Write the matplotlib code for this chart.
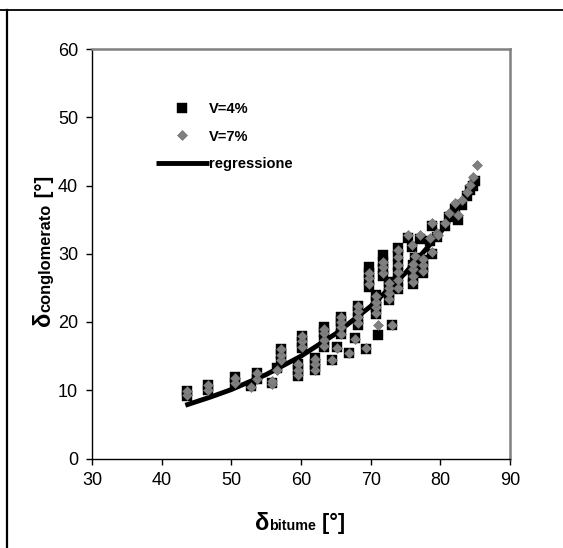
import matplotlib
matplotlib.use("Agg")
import matplotlib.pyplot as plt
from matplotlib.lines import Line2D

plt.rcParams['font.family'] = ['Liberation Sans', 'DejaVu Sans']

# ---- data ----
x_v4 = [43.6, 43.6, 46.6, 46.6, 50.5, 50.5, 52.8, 53.7, 53.7, 55.9, 56.5,
        57.1, 57.1, 57.1, 59.5, 59.5, 59.5, 60.1, 60.1, 60.1, 62.0, 62.0, 62.0,
        63.3, 63.3, 63.3, 63.3, 64.4, 65.1, 65.7, 65.7, 65.7, 65.7, 66.9, 67.7,
        68.2, 68.2, 68.2, 68.2, 69.3, 69.8, 69.8, 69.8, 69.8, 70.7, 70.7, 70.7, 70.7,
        71.1, 71.8, 71.8, 71.8, 71.8, 72.6, 72.6, 72.6, 72.6, 73.0,
        73.9, 73.9, 73.9, 73.9, 73.9, 73.9, 75.4, 75.9, 76.1, 76.1, 76.1, 76.1,
        76.4, 77.1, 77.5, 77.5, 77.5, 78.8, 78.8, 78.5, 79.5, 80.7, 81.2, 82.1,
        82.6, 83.1, 83.8, 84.3, 84.7, 85.0]
y_v4 = [9.2, 9.9, 10.0, 10.8, 11.0, 11.9, 10.6, 11.6, 12.6, 11.0, 13.2,
        14.3, 15.3, 16.1, 12.1, 13.0, 13.9, 16.2, 17.1, 17.9, 12.9, 13.8, 14.7,
        16.4, 17.4, 18.5, 19.2, 14.5, 16.3, 18.2, 19.2, 20.1, 20.8, 15.5, 17.6,
        19.6, 20.6, 21.6, 22.4, 16.0, 25.2, 26.2, 27.2, 28.1, 21.2, 22.2, 23.1, 23.9,
        18.1, 26.7, 27.7, 28.8, 29.8, 23.2, 24.2, 25.1, 25.8, 19.5,
        24.8, 26.0, 27.2, 28.4, 29.6, 30.8, 32.3, 31.0, 25.6, 26.6, 27.6, 28.4,
        29.4, 32.2, 27.2, 28.2, 29.1, 30.0, 34.0, 31.8, 32.5, 34.0, 35.4, 36.6,
        35.0, 37.2, 38.4, 39.3, 40.0, 40.6]

x_v7 = [43.6, 43.6, 46.6, 46.6, 50.5, 50.5, 52.8, 53.7, 53.7, 55.9, 55.9, 56.5,
        57.1, 57.1, 57.1, 59.5, 59.5, 59.5, 60.1, 60.1, 60.1, 62.0, 62.0, 62.0,
        63.3, 63.3, 63.3, 63.3, 64.4, 65.1, 65.7, 65.7, 65.7, 65.7, 66.9, 67.7,
        68.2, 68.2, 68.2, 68.2, 69.3, 69.8, 69.8, 69.8, 70.7, 70.7, 70.7, 70.7,
        71.1, 71.8, 71.8, 71.8, 72.6, 72.6, 72.6, 72.6, 73.0,
        73.9, 73.9, 73.9, 73.9, 73.9, 73.9, 75.4, 75.9, 76.1, 76.1, 76.1, 76.1,
        76.4, 77.1, 77.5, 77.5, 77.5, 78.8, 78.8, 78.5, 79.5, 79.7, 80.7, 81.2,
        82.1, 82.6, 83.1, 83.8, 84.3, 84.7, 85.2]
y_v7 = [9.3, 9.9, 10.0, 10.7, 11.1, 11.8, 10.5, 11.7, 12.5, 10.9, 11.4, 13.0,
        14.4, 15.2, 16.0, 12.2, 13.0, 13.8, 16.3, 17.2, 18.0, 13.0, 13.8, 14.6,
        16.5, 17.4, 18.4, 19.0, 14.4, 16.2, 18.3, 19.2, 20.0, 20.7, 15.4, 17.5,
        19.8, 20.7, 21.6, 22.3, 16.2, 25.6, 26.5, 27.2, 21.3, 22.2, 23.0, 23.8,
        19.6, 27.2, 28.0, 28.8, 23.3, 24.2, 25.0, 25.7, 19.6,
        25.0, 26.2, 27.3, 28.4, 29.5, 30.6, 32.8, 31.3, 25.8, 26.7, 27.8, 28.5,
        29.6, 32.8, 27.4, 28.4, 29.2, 30.3, 34.5, 32.3, 33.0, 32.8, 34.5, 36.0,
        37.4, 35.7, 37.9, 39.1, 40.1, 41.3, 43.0]

x_reg = [43.4, 47.0, 50.0, 55.0, 60.0, 65.0, 70.0, 75.0, 80.0, 85.2]
y_reg = [7.8, 9.0, 10.1, 12.3, 15.0, 18.3, 22.3, 27.2, 33.1, 40.7]

labels = ['V=4%', 'V=7%', 'regressione']
x_ticks = [30, 40, 50, 60, 70, 80, 90]
y_ticks = [0, 10, 20, 30, 40, 50, 60]

W, H = 563, 548
fig = plt.figure(figsize=(W / 100, H / 100), dpi=100)
ax = fig.add_axes([92 / W, 1 - 458.5 / H, 418 / W, 409.5 / H])

gray = '#808080'
h4, = ax.plot(x_v4, y_v4, ls='none', marker='s', ms=6.8, color='black',
              mec='black', mew=0.3, zorder=3, label=labels[0])
hr, = ax.plot(x_reg, y_reg, color='black', lw=3.5, zorder=3.5,
              solid_capstyle='butt', label=labels[2])
h7, = ax.plot(x_v7, y_v7, ls='none', marker='D', ms=5.4, color=gray,
              mec='#6a6a6a', mew=0.4, zorder=4, label=labels[1])

ax.set_xlim(30, 90)
ax.set_ylim(0, 60)
ax.set_xticks(x_ticks)
ax.set_yticks(y_ticks)
ax.tick_params(direction='out', length=4, width=1, color='black',
               labelsize=13, pad=6)
for s in ['left', 'bottom']:
    ax.spines[s].set_color('black')
    ax.spines[s].set_linewidth(1.0)
for s in ['top', 'right']:
    ax.spines[s].set_color(gray)
    ax.spines[s].set_linewidth(1.8)

leg = ax.legend(handles=[h4, h7, hr], labels=labels, loc='upper left',
                bbox_to_anchor=(156.0 / W, 1 - 102 / H),
                bbox_transform=fig.transFigure, frameon=False,
                prop={'size': 10.5, 'weight': 'bold'}, numpoints=1,
                handlelength=3.6, handletextpad=0.05, labelspacing=0.93,
                borderpad=0, borderaxespad=0)

# figure border lines (top and left)
fig.add_artist(Line2D([0, 1], [1 - 9.5 / H, 1 - 9.5 / H], transform=fig.transFigure,
                      color='black', lw=1.3))
fig.add_artist(Line2D([7 / W, 7 / W], [0, 1 - 9.5 / H], transform=fig.transFigure,
                      color='black', lw=1.6))

# axis labels composed of pieces of different size
xl_parts = [('δ', 17), ('bitume', 10.3), (' [°]', 15.5)]
yl_parts = [('δ', 17), ('conglomerato', 11.8), (' [°]', 14.6)]

xt = [fig.text(0, 1 - 529.5 / H, t, fontsize=s, fontweight='bold',
               ha='left', va='baseline') for t, s in xl_parts]
yt = [fig.text(50 / W, 0, t, fontsize=s, fontweight='bold', rotation=90,
               rotation_mode='anchor', ha='left', va='baseline') for t, s in yl_parts]

fig.canvas.draw()
r = fig.canvas.get_renderer()
widths = [t.get_window_extent(r).width for t in xt]
total = sum(widths)
x0 = 300 - total / 2
for t, w in zip(xt, widths):
    t.set_x(x0 / W)
    x0 += w
heights = [t.get_window_extent(r).height for t in yt]
total = sum(heights)
y0 = 251 - total / 2
ycur = H - (y0 + total)
for t, h in zip(yt, heights):
    t.set_y(ycur / H)
    ycur += h

fig.savefig('out.png', dpi=100)
